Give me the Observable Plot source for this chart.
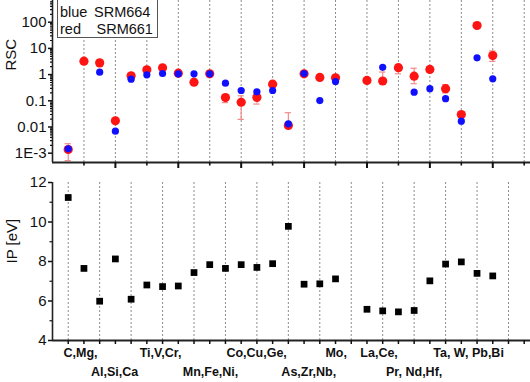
<!DOCTYPE html>
<html><head><meta charset="utf-8">
<script src="https://cdn.jsdelivr.net/npm/d3@7"></script>
<script src="https://cdn.jsdelivr.net/npm/@observablehq/plot@0.6"></script>
<style>
body{margin:0;background:#fff;}
#wrap{position:relative;width:530px;height:382px;font-family:"Liberation Sans",Arial,sans-serif;overflow:hidden;}
#wrap svg{display:block;}
#legbox{position:absolute;left:57px;top:-1px;width:101px;height:39px;border:1px solid #555;background:#fff;box-sizing:border-box;}
.lg{position:absolute;font-size:14.5px;line-height:17px;color:#111;white-space:pre;}
</style></head><body>
<div id="wrap"></div>
<script>
// ---- data ----
const elements = ["C","Mg","Al","Si","Ca","Ti","V","Cr","Mn","Fe","Ni","Co","Cu","Ge","As","Zr","Nb","Mo","La","Ce","Pr","Nd","Hf","Ta","W","Pb","Bi"];
const slots    = [0,1,2,3,4,5,6,7,8,9,10,11,12,13,14,15,16,17,19,20,21,22,23,24,25,26,27];
const rscSRM661 = [0.00138,3.26,2.8,0.0172,0.90,1.52,1.81,1.13,0.515,1.07,0.133,0.088,0.135,0.43,0.0115,1.07,0.78,0.75,0.60,0.57,1.84,0.87,1.57,0.29,0.030,74.8,5.3];
const rscSRM664 = [0.00147,null,1.24,0.0069,0.67,0.98,1.10,1.07,1.07,1.07,0.47,0.247,0.22,0.247,0.0132,1.1,0.102,0.54,null,1.9,null,0.214,0.29,0.12,0.0167,4.37,0.69];
const err661Lo = [0.00052,null,null,null,0.66,null,null,null,null,null,0.085,0.0195,0.075,0.35,0.0095,null,null,null,null,0.45,1.07,0.45,1.25,0.2,null,null,3.2];
const err661Hi = [0.0023,null,null,null,1.0,null,null,null,null,null,0.16,0.155,0.19,0.56,0.035,null,null,null,null,1.25,2.4,1.74,1.9,0.41,null,null,8.0];
const ipEV = [11.24,7.65,5.99,8.13,6.09,6.81,6.73,6.76,7.44,7.84,7.65,7.84,7.70,7.89,9.78,6.85,6.87,7.12,5.58,5.50,5.45,5.52,7.02,7.87,7.98,7.40,7.27];

const groupLabels  = ["C,Mg,","Al,Si,Ca","Ti,V,Cr,","Mn,Fe,Ni,","Co,Cu,Ge,","As,Zr,Nb,","Mo,","La,Ce,","Pr, Nd,Hf,","Ta, W, Pb,Bi"];
const groupCenters = [0.78,2.95,5.87,9.05,11.98,15.3,17.04,19.77,22.0,25.46];
const groupRows    = [1,2,1,2,1,2,1,1,2,1];

const rscTicks = [0.001,0.01,0.1,1,10,100];
const rscTickLabels = ["1E-3","0.01","0.1","1","10","100"];
const ipTicks = [4,6,8,10,12];
const ipMinorTicks = [5,7,9,11];
const topGrid = [1,3,5,7,9,11,13,15,17,19,21,23,25,27,29];
const bottomGrid = [0,2,4,6,8,10,12,14,16,18,20,22,24,26,28];
const topMajorTicks = [3,7,11,15,19,23,27];
const topMinorTicks = [1,5,9,13,17,21,25,29];
const bottomTicks = [0,1,2,3,4,5,6,7,8,9,10,11,12,13,14,15,16,17,18,19,20,21,22,23,24,25,26,27,28,29];

// ---- build ----
const rows = elements.map((el,i)=>({el, slot:slots[i], red:rscSRM661[i], blue:rscSRM664[i], lo:err661Lo[i], hi:err661Hi[i], ip:ipEV[i]}));
const errRows = rows.filter(d=>d.lo!=null);
const labelMap = new Map(rscTicks.map((t,i)=>[t,rscTickLabels[i]]));
const minorLog = [];
for (let e=-3;e<=2;e++) for (let m=2;m<=9;m++){ const v=m*Math.pow(10,e); if (v<680) minorLog.push(+v.toPrecision(3)); }
const groups = groupLabels.map((t,i)=>({t, x:groupCenters[i], row:groupRows[i]}));

const font = '"Liberation Sans", Arial, sans-serif';
const xDomain = [-1, 29.4];
const gridStyle = {stroke:"#8c8c8c", strokeDasharray:"2,2", strokeWidth:1};
const errColor = "#f28c8c";

const topPlot = Plot.plot({
  width:530, height:172, marginLeft:52, marginRight:0, marginTop:0, marginBottom:10,
  style:{fontFamily:font, background:"transparent", overflow:"visible", color:"#111"},
  x:{domain:xDomain, axis:null},
  y:{type:"log", domain:[4.41e-4, 673], axis:null},
  marks:[
    Plot.ruleX(topGrid, gridStyle),
    Plot.ruleX(errRows, {x:"slot", y1:"lo", y2:"hi", stroke:errColor, strokeWidth:1.2}),
    Plot.ruleY(errRows, {y:"lo", x1:d=>d.slot-0.2, x2:d=>d.slot+0.2, stroke:errColor, strokeWidth:1.2}),
    Plot.ruleY(errRows, {y:"hi", x1:d=>d.slot-0.2, x2:d=>d.slot+0.2, stroke:errColor, strokeWidth:1.2}),
    Plot.dot(rows.filter(d=>d.red!=null), {x:"slot", y:"red", r:4.6, fill:"#ff1414", stroke:"none"}),
    Plot.dot(rows.filter(d=>d.blue!=null), {x:"slot", y:"blue", r:3.6, fill:"#1010ff", stroke:"none"}),
    Plot.ruleX([-1], {stroke:"#222", strokeWidth:1.6}),
    Plot.ruleY([4.41e-4], {stroke:"#222", strokeWidth:2}),
    Plot.axisY(minorLog, {tickSize:2, tickFormat:()=>"", label:null, strokeWidth:1.2}),
    Plot.axisY(rscTicks, {tickSize:4, tickPadding:2, tickFormat:d=>labelMap.get(d), label:null, fontSize:15, strokeWidth:1.5}),
    Plot.axisX(topMajorTicks, {tickSize:6, tickFormat:()=>"", label:null, strokeWidth:2}),
    Plot.axisX(topMinorTicks, {tickSize:3.5, tickFormat:()=>"", label:null, strokeWidth:1.6}),
    Plot.text(["RSC"], {text:d=>d, frameAnchor:"left", rotate:-90, dx:-41, dy:-11, fontSize:15})
  ]
});

const bottomPlot = Plot.plot({
  width:530, height:210, marginLeft:52, marginRight:0, marginTop:10, marginBottom:42,
  style:{fontFamily:font, background:"transparent", overflow:"visible", color:"#111"},
  x:{domain:xDomain, axis:null},
  y:{domain:[4,12], axis:null},
  marks:[
    Plot.ruleX(bottomGrid, {...gridStyle, y1:4, y2:12}),
    Plot.dot(rows, {x:"slot", y:"ip", symbol:"square", r:3.8, fill:"#000", stroke:"none"}),
    Plot.ruleX([-1], {y1:4, y2:12, stroke:"#222", strokeWidth:1.6}),
    Plot.ruleY([4], {stroke:"#222", strokeWidth:2}),
    Plot.axisY(ipMinorTicks, {tickSize:2.5, tickFormat:()=>"", label:null, strokeWidth:1.2}),
    Plot.axisY(ipTicks, {tickSize:4, tickPadding:2, label:null, fontSize:15, strokeWidth:1.5}),
    Plot.axisX(bottomTicks, {tickSize:4, tickFormat:()=>"", label:null, strokeWidth:1.5}),
    Plot.text(groups.filter(d=>d.row===1), {x:"x", text:"t", frameAnchor:"bottom", dy:16, fontSize:12.5, fontWeight:"bold"}),
    Plot.text(groups.filter(d=>d.row===2), {x:"x", text:"t", frameAnchor:"bottom", dy:35, fontSize:12.5, fontWeight:"bold"}),
    Plot.text(["IP [eV]"], {text:d=>d, frameAnchor:"left", rotate:-90, dx:-40, dy:2, fontSize:15})
  ]
});

const wrap = document.getElementById("wrap");
wrap.appendChild(topPlot);
wrap.appendChild(bottomPlot);
const box = document.createElement("div"); box.id="legbox"; wrap.appendChild(box);
const leg = [["blue",60,4],["SRM664",94,4],["red",60,21],["SRM661",96.5,21]];
for (const [t,l,tp] of leg){ const s=document.createElement("span"); s.className="lg"; s.textContent=t; s.style.left=l+"px"; s.style.top=tp+"px"; wrap.appendChild(s); }
</script>
</body></html>
